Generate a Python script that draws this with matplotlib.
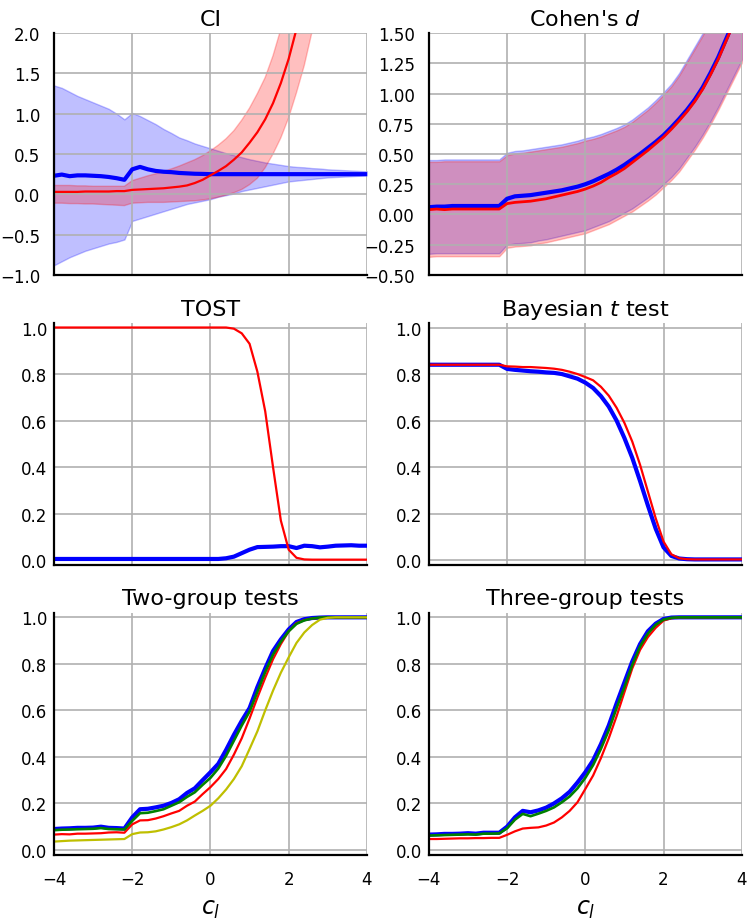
import numpy as np
import matplotlib
matplotlib.use("Agg")
import matplotlib.pyplot as plt
from matplotlib.ticker import FuncFormatter

# eixo comum c_l
x = np.linspace(-4, 4, 41)

# --- CI ---
ci_blue_mid = [0.23, 0.245, 0.225, 0.235, 0.235, 0.23, 0.225, 0.215, 0.20, 0.18,
               0.31, 0.34, 0.31, 0.29, 0.28, 0.275, 0.265, 0.26, 0.255, 0.253, 0.25,
               0.25, 0.25, 0.25, 0.25, 0.25, 0.25, 0.25, 0.25, 0.25, 0.25,
               0.25, 0.25, 0.25, 0.25, 0.25, 0.25, 0.25, 0.25, 0.25, 0.25]
ci_blue_hi = [1.35, 1.32, 1.27, 1.22, 1.18, 1.14, 1.10, 1.06, 1.00, 0.93,
              1.01, 0.97, 0.92, 0.87, 0.81, 0.76, 0.705, 0.67, 0.63, 0.60, 0.57,
              0.54, 0.51, 0.485, 0.46, 0.435, 0.415, 0.395, 0.38, 0.365, 0.35,
              0.34, 0.335, 0.325, 0.32, 0.31, 0.305, 0.30, 0.295, 0.29, 0.285]
ci_blue_lo = [-0.88, -0.83, -0.78, -0.74, -0.70, -0.67, -0.64, -0.61, -0.59, -0.56,
              -0.33, -0.30, -0.27, -0.24, -0.21, -0.18, -0.15, -0.12, -0.10, -0.08, -0.06,
              -0.03, -0.01, 0.01, 0.04, 0.06, 0.08, 0.10, 0.12, 0.14, 0.16,
              0.17, 0.18, 0.19, 0.20, 0.21, 0.215, 0.22, 0.225, 0.23, 0.235]
ci_red_mid = [0.03, 0.03, 0.03, 0.03, 0.035, 0.035, 0.035, 0.035, 0.04, 0.04,
              0.055, 0.06, 0.065, 0.07, 0.075, 0.085, 0.095, 0.11, 0.14, 0.18, 0.235,
              0.29, 0.35, 0.43, 0.52, 0.64, 0.77, 0.93, 1.13, 1.38, 1.68,
              2.05, 2.5, 3.0, 3.6, 4.3, 5.1, 6.0, 7.0, 8.2, 9.5]
ci_red_hi = [0.11, 0.11, 0.11, 0.105, 0.105, 0.10, 0.10, 0.10, 0.10, 0.10,
             0.17, 0.20, 0.23, 0.255, 0.285, 0.315, 0.35, 0.39, 0.43, 0.48, 0.54,
             0.61, 0.69, 0.79, 0.92, 1.07, 1.25, 1.45, 1.72, 2.05, 2.5,
             3.0, 3.6, 4.3, 5.1, 6.0, 7.0, 8.2, 9.5, 11.0, 12.7]
ci_red_lo = [-0.11, -0.11, -0.115, -0.115, -0.12, -0.12, -0.125, -0.13, -0.135, -0.14,
             -0.11, -0.105, -0.10, -0.10, -0.10, -0.095, -0.09, -0.085, -0.08, -0.07, -0.055,
             -0.035, -0.01, 0.02, 0.06, 0.12, 0.20, 0.33, 0.50, 0.70, 0.95,
             1.26, 1.6, 2.02, 2.5, 3.0, 3.6, 4.3, 5.1, 6.0, 7.0]

# --- Cohen's d ---
cd_blue_mid = [0.06, 0.065, 0.065, 0.07, 0.07, 0.07, 0.07, 0.07, 0.07, 0.07,
               0.13, 0.15, 0.155, 0.16, 0.17, 0.18, 0.19, 0.20, 0.215, 0.23, 0.25,
               0.275, 0.305, 0.335, 0.37, 0.41, 0.455, 0.50, 0.55, 0.60, 0.655,
               0.72, 0.79, 0.865, 0.95, 1.05, 1.17, 1.30, 1.45, 1.60, 1.77]
cd_blue_hi = [0.45, 0.45, 0.455, 0.455, 0.455, 0.455, 0.455, 0.455, 0.455, 0.455,
              0.51, 0.525, 0.53, 0.54, 0.55, 0.56, 0.57, 0.58, 0.595, 0.61, 0.63,
              0.645, 0.665, 0.69, 0.715, 0.745, 0.785, 0.835, 0.885, 0.945, 1.01,
              1.08, 1.17, 1.28, 1.39, 1.50, 1.62, 1.75, 1.90, 2.05, 2.20]
cd_blue_lo = [-0.325, -0.32, -0.32, -0.32, -0.32, -0.32, -0.32, -0.32, -0.32, -0.32,
              -0.25, -0.24, -0.235, -0.23, -0.215, -0.205, -0.19, -0.175, -0.16, -0.145, -0.13,
              -0.105, -0.08, -0.055, -0.02, 0.015, 0.05, 0.095, 0.14, 0.19, 0.25,
              0.31, 0.38, 0.47, 0.56, 0.66, 0.77, 0.89, 1.02, 1.15, 1.28]
cd_red_mid = [0.04, 0.045, 0.04, 0.045, 0.045, 0.045, 0.045, 0.045, 0.045, 0.045,
              0.09, 0.10, 0.105, 0.11, 0.12, 0.13, 0.145, 0.16, 0.175, 0.19, 0.21,
              0.235, 0.265, 0.305, 0.34, 0.38, 0.43, 0.48, 0.53, 0.585, 0.64,
              0.705, 0.775, 0.85, 0.935, 1.035, 1.155, 1.285, 1.435, 1.585, 1.755]
cd_red_hi = [0.435, 0.435, 0.44, 0.44, 0.44, 0.44, 0.44, 0.44, 0.44, 0.44,
             0.49, 0.505, 0.51, 0.52, 0.53, 0.54, 0.55, 0.56, 0.575, 0.59, 0.61,
             0.625, 0.645, 0.67, 0.695, 0.725, 0.765, 0.815, 0.865, 0.925, 0.99,
             1.06, 1.15, 1.26, 1.37, 1.48, 1.60, 1.73, 1.88, 2.03, 2.18]
cd_red_lo = [-0.35, -0.345, -0.345, -0.345, -0.345, -0.345, -0.345, -0.345, -0.345, -0.345,
             -0.275, -0.265, -0.26, -0.255, -0.24, -0.23, -0.215, -0.2, -0.185, -0.17, -0.155,
             -0.13, -0.105, -0.08, -0.045, -0.01, 0.025, 0.07, 0.115, 0.165, 0.225,
             0.285, 0.355, 0.445, 0.535, 0.635, 0.745, 0.865, 0.995, 1.125, 1.255]

# --- TOST ---
tost_blue = [0.005] * 22 + [0.008, 0.015, 0.03, 0.045, 0.056, 0.057, 0.058, 0.06, 0.06,
                            0.052, 0.062, 0.06, 0.055, 0.058, 0.062, 0.063, 0.064, 0.062, 0.062]
tost_red = [1.0] * 23 + [0.995, 0.975, 0.93, 0.81, 0.64, 0.40, 0.17, 0.045, 0.01, 0.003,
                         0.002, 0.002, 0.002, 0.002, 0.002, 0.002, 0.002, 0.002]

# --- Bayesian t test ---
bt_blue = [0.84] * 10 + [0.822, 0.818, 0.815, 0.812, 0.81, 0.807, 0.805, 0.80, 0.79, 0.78, 0.763,
                         0.74, 0.705, 0.66, 0.60, 0.525, 0.44, 0.34, 0.235, 0.135, 0.055,
                         0.018, 0.007, 0.004, 0.003, 0.003, 0.003, 0.003, 0.003, 0.003, 0.003]
bt_red = [0.84] * 10 + [0.833, 0.832, 0.83, 0.83, 0.828, 0.826, 0.823, 0.818, 0.81, 0.80, 0.787,
                        0.773, 0.745, 0.707, 0.655, 0.59, 0.51, 0.41, 0.295, 0.18, 0.08,
                        0.025, 0.008, 0.004, 0.003, 0.003, 0.003, 0.003, 0.003, 0.003, 0.003]

# --- Two-group tests ---
tg_blue = [0.09, 0.092, 0.093, 0.095, 0.095, 0.096, 0.10, 0.095, 0.094, 0.092,
           0.14, 0.175, 0.177, 0.183, 0.19, 0.202, 0.218, 0.245, 0.265, 0.30, 0.334,
           0.37, 0.43, 0.495, 0.555, 0.61, 0.70, 0.78, 0.855, 0.905, 0.948,
           0.98, 0.992, 0.997, 0.999, 1.0, 1.0, 1.0, 1.0, 1.0, 1.0]
tg_red = [0.066, 0.068, 0.067, 0.07, 0.07, 0.071, 0.072, 0.075, 0.076, 0.074,
          0.11, 0.127, 0.128, 0.135, 0.145, 0.157, 0.168, 0.19, 0.208, 0.24, 0.27,
          0.305, 0.348, 0.41, 0.48, 0.565, 0.655, 0.74, 0.82, 0.885, 0.94,
          0.975, 0.988, 0.995, 0.998, 1.0, 1.0, 1.0, 1.0, 1.0, 1.0]
tg_green = [0.085, 0.087, 0.088, 0.089, 0.09, 0.091, 0.094, 0.09, 0.089, 0.088,
            0.125, 0.158, 0.16, 0.167, 0.175, 0.19, 0.205, 0.228, 0.248, 0.28, 0.31,
            0.35, 0.405, 0.47, 0.535, 0.595, 0.68, 0.765, 0.84, 0.895, 0.94,
            0.972, 0.987, 0.995, 0.999, 1.0, 1.0, 1.0, 1.0, 1.0, 1.0]
tg_yellow = [0.036, 0.038, 0.04, 0.041, 0.042, 0.043, 0.044, 0.045, 0.046, 0.047,
             0.068, 0.075, 0.076, 0.08, 0.088, 0.098, 0.11, 0.127, 0.148, 0.168, 0.19,
             0.222, 0.26, 0.305, 0.36, 0.434, 0.51, 0.60, 0.685, 0.762, 0.828,
             0.89, 0.935, 0.967, 0.99, 0.998, 1.0, 1.0, 1.0, 1.0, 1.0]

# --- Three-group tests ---
thr_blue = [0.066, 0.067, 0.069, 0.069, 0.07, 0.072, 0.07, 0.074, 0.074, 0.074,
            0.10, 0.14, 0.168, 0.162, 0.17, 0.182, 0.20, 0.222, 0.25, 0.29, 0.334,
            0.385, 0.455, 0.535, 0.63, 0.72, 0.81, 0.885, 0.94, 0.973, 0.993,
            0.999, 1.0, 1.0, 1.0, 1.0, 1.0, 1.0, 1.0, 1.0, 1.0]
thr_red = [0.047, 0.047, 0.048, 0.049, 0.05, 0.05, 0.051, 0.051, 0.052, 0.052,
           0.065, 0.08, 0.092, 0.095, 0.097, 0.105, 0.118, 0.14, 0.168, 0.205, 0.262,
           0.32, 0.395, 0.48, 0.575, 0.678, 0.78, 0.86, 0.915, 0.955, 0.986,
           0.996, 1.0, 1.0, 1.0, 1.0, 1.0, 1.0, 1.0, 1.0, 1.0]
thr_green = [0.062, 0.063, 0.064, 0.065, 0.066, 0.067, 0.066, 0.07, 0.07, 0.071,
             0.093, 0.13, 0.155, 0.145, 0.156, 0.168, 0.183, 0.205, 0.23, 0.265, 0.31,
             0.365, 0.435, 0.515, 0.61, 0.70, 0.795, 0.875, 0.93, 0.968, 0.99,
             0.998, 1.0, 1.0, 1.0, 1.0, 1.0, 1.0, 1.0, 1.0, 1.0]

# estilo
plt.rcParams["font.family"] = "DejaVu Sans"
plt.rcParams["axes.grid"] = True
plt.rcParams["grid.color"] = "#b0b0b0"
plt.rcParams["grid.linewidth"] = 1.2

fig, axes = plt.subplots(3, 2, figsize=(7.5, 9.2), dpi=100, sharex=True)
fig.subplots_adjust(left=0.072, right=0.989, top=0.963, bottom=0.070,
                    wspace=0.198, hspace=0.198)

lw_thick = 3.0
lw_thin = 1.6
fill_alpha = 0.25


def fmt(decimals):
    # rótulos com sinal de menos tipográfico
    return FuncFormatter(lambda v, p: f"{v:.{decimals}f}".replace("-", "\u2212"))


# CI
ax = axes[0, 0]
ax.fill_between(x, ci_blue_lo, ci_blue_hi, color="b", alpha=fill_alpha)
ax.fill_between(x, ci_red_lo, ci_red_hi, color="r", alpha=fill_alpha)
ax.plot(x, ci_blue_mid, color="b", lw=lw_thick)
ax.plot(x, ci_red_mid, color="r", lw=lw_thin)
ax.set_ylim(-1.0, 2.0)
ax.set_yticks(np.arange(-1.0, 2.01, 0.5))
ax.yaxis.set_major_formatter(fmt(1))
ax.set_title("CI")

# Cohen's d
ax = axes[0, 1]
ax.fill_between(x, cd_blue_lo, cd_blue_hi, color="b", alpha=fill_alpha)
ax.fill_between(x, cd_red_lo, cd_red_hi, color="r", alpha=fill_alpha)
ax.plot(x, cd_blue_mid, color="b", lw=lw_thick)
ax.plot(x, cd_red_mid, color="r", lw=lw_thin + 0.4)
ax.set_ylim(-0.5, 1.5)
ax.set_yticks(np.arange(-0.5, 1.51, 0.25))
ax.yaxis.set_major_formatter(fmt(2))
ax.set_title("Cohen's $d$")

# TOST
ax = axes[1, 0]
ax.plot(x, tost_blue, color="b", lw=lw_thick)
ax.plot(x, tost_red, color="r", lw=lw_thin)
ax.set_title("TOST")

# Bayesian t test
ax = axes[1, 1]
ax.plot(x, bt_blue, color="b", lw=lw_thick)
ax.plot(x, bt_red, color="r", lw=lw_thin)
ax.set_title("Bayesian $t$ test")

# Two-group tests
ax = axes[2, 0]
ax.plot(x, tg_blue, color="b", lw=lw_thick)
ax.plot(x, tg_red, color="r", lw=lw_thin)
ax.plot(x, tg_green, color="g", lw=lw_thin + 0.3)
ax.plot(x, tg_yellow, color="y", lw=lw_thin)
ax.set_title("Two-group tests")

# Three-group tests
ax = axes[2, 1]
ax.plot(x, thr_blue, color="b", lw=lw_thick)
ax.plot(x, thr_red, color="r", lw=lw_thin)
ax.plot(x, thr_green, color="g", lw=lw_thin + 0.3)
ax.set_title("Three-group tests")

for ax in axes[1:].ravel():
    ax.set_ylim(-0.02, 1.02)
    ax.set_yticks(np.arange(0, 1.01, 0.2))
    ax.yaxis.set_major_formatter(fmt(1))

for i, ax in enumerate(axes.ravel()):
    ax.set_xlim(-4, 4)
    ax.set_xticks([-4, -2, 0, 2, 4])
    ax.title.set_fontsize(16)
    for s in ["top", "right"]:
        ax.spines[s].set_visible(False)
    for s in ["left", "bottom"]:
        ax.spines[s].set_color("black")
        ax.spines[s].set_linewidth(1.6)
    ypad = 10 if i < 2 else 5
    ax.tick_params(axis="y", length=0, pad=ypad, labelsize=12)
    ax.tick_params(axis="x", length=0, pad=11, labelsize=12)

for ax in axes[2]:
    ax.set_xlabel("$c_l$", fontsize=17, labelpad=6)

plt.savefig("out.png", dpi=100)
